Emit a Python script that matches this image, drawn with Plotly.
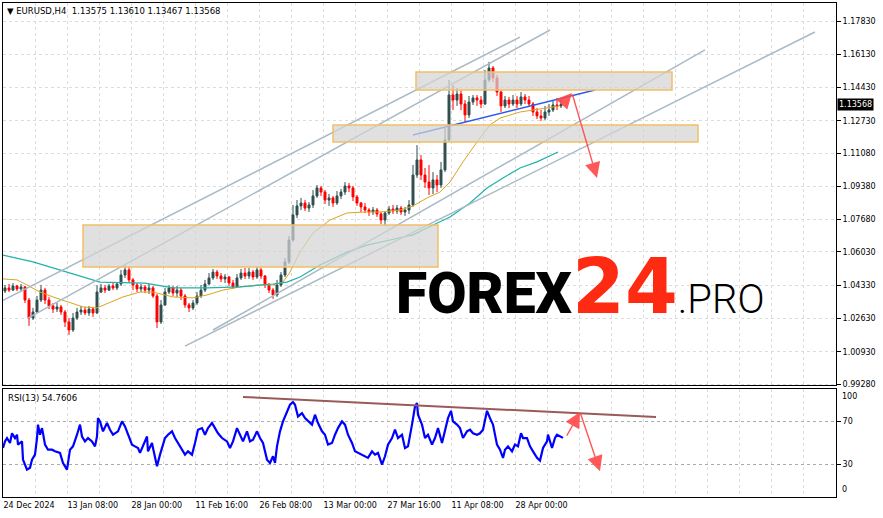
import plotly.graph_objects as go

header_text = "▼ EURUSD,H4  1.13575 1.13610 1.13467 1.13568"
rsi_text = "RSI(13) 54.7606"
last_price = 1.13568
last_price_text = "1.13568"

# ---- candles (each candle = 4 H4 bars) ----
bars_per_candle = 4
opens = [1.0403,1.0419,1.0408,1.0429,1.0414,1.0424,1.0357,1.0265,1.0296,1.0357,
         1.0408,1.0357,1.0327,1.0311,1.0322,1.0296,1.0245,1.0204,1.0265,1.0296,
         1.0306,1.0291,1.0311,1.0291,1.0398,1.0419,1.0408,1.0429,1.0419,1.0439,
         1.0485,1.0511,1.0460,1.0434,1.0414,1.0424,1.0408,1.0419,1.0378,1.0245,
         1.0332,1.0398,1.0419,1.0393,1.0408,1.0378,1.0332,1.0317,1.0342,1.0378,
         1.0408,1.0439,1.0470,1.0500,1.0480,1.0465,1.0475,1.0444,1.0424,1.0470,
         1.0495,1.0480,1.0500,1.0475,1.0511,1.0480,1.0434,1.0408,1.0383,1.0434,
         1.0485,1.0552,1.0664,1.0792,1.0838,1.0853,1.0827,1.0843,1.0889,1.0930,
         1.0909,1.0868,1.0879,1.0853,1.0889,1.0909,1.0940,1.0930,1.0884,1.0853,
         1.0833,1.0817,1.0807,1.0817,1.0797,1.0766,1.0802,1.0822,1.0812,1.0827,
         1.0807,1.0817,1.0843,1.0996,1.1073,1.0996,1.0960,1.0930,1.0971,1.0945,
         1.1022,1.1175,1.1405,1.1379,1.1410,1.1359,1.1303,1.1369,1.1390,1.1379,
         1.1359,1.1482,1.1543,1.1492,1.1420,1.1349,1.1379,1.1359,1.1379,1.1359,
         1.1395,1.1379,1.1359,1.1318,1.1298,1.1287,1.1318,1.1328,1.1354,1.1349]
highs = [1.0434,1.0439,1.0444,1.0434,1.0439,1.0429,1.0368,1.0317,1.0378,1.0434,
         1.0419,1.0373,1.0342,1.0342,1.0332,1.0306,1.0265,1.0291,1.0317,1.0327,
         1.0322,1.0327,1.0322,1.0434,1.0439,1.0434,1.0439,1.0444,1.0449,1.0511,
         1.0536,1.0531,1.0470,1.0444,1.0439,1.0434,1.0439,1.0429,1.0388,1.0357,
         1.0419,1.0434,1.0429,1.0429,1.0419,1.0388,1.0342,1.0357,1.0398,1.0434,
         1.0460,1.0495,1.0516,1.0511,1.0495,1.0490,1.0480,1.0460,1.0490,1.0516,
         1.0521,1.0521,1.0511,1.0526,1.0521,1.0485,1.0444,1.0419,1.0460,1.0500,
         1.0572,1.0684,1.0843,1.0868,1.0879,1.0868,1.0858,1.0919,1.0945,1.0940,
         1.0919,1.0899,1.0889,1.0914,1.0925,1.0960,1.0955,1.0940,1.0894,1.0858,
         1.0853,1.0827,1.0833,1.0827,1.0807,1.0812,1.0838,1.0843,1.0843,1.0838,
         1.0833,1.0868,1.1047,1.1149,1.1098,1.1032,1.1047,1.1011,1.0996,1.1063,
         1.1236,1.1482,1.1456,1.1441,1.1430,1.1379,1.1400,1.1405,1.1405,1.1400,
         1.1533,1.1574,1.1553,1.1507,1.1430,1.1400,1.1395,1.1405,1.1400,1.1420,
         1.1410,1.1400,1.1369,1.1338,1.1328,1.1349,1.1359,1.1379,1.1390,1.1384]
lows = [1.0393,1.0398,1.0403,1.0403,1.0398,1.0342,1.0225,1.0255,1.0291,1.0347,
        1.0337,1.0311,1.0291,1.0296,1.0281,1.0219,1.0179,1.0194,1.0255,1.0281,
        1.0281,1.0276,1.0271,1.0286,1.0393,1.0393,1.0403,1.0408,1.0408,1.0429,
        1.0470,1.0444,1.0408,1.0398,1.0398,1.0393,1.0388,1.0368,1.0214,1.0235,
        1.0327,1.0388,1.0378,1.0373,1.0357,1.0317,1.0296,1.0306,1.0332,1.0368,
        1.0398,1.0434,1.0460,1.0465,1.0449,1.0444,1.0429,1.0414,1.0419,1.0460,
        1.0465,1.0465,1.0460,1.0465,1.0465,1.0419,1.0393,1.0363,1.0373,1.0424,
        1.0475,1.0541,1.0654,1.0776,1.0817,1.0812,1.0807,1.0827,1.0879,1.0889,
        1.0848,1.0838,1.0833,1.0843,1.0873,1.0894,1.0909,1.0863,1.0838,1.0807,
        1.0802,1.0787,1.0792,1.0782,1.0746,1.0736,1.0792,1.0797,1.0797,1.0792,
        1.0787,1.0797,1.0833,1.0981,1.0971,1.0930,1.0894,1.0899,1.0909,1.0930,
        1.1011,1.1165,1.1328,1.1349,1.1328,1.1267,1.1287,1.1354,1.1349,1.1338,
        1.1354,1.1471,1.1471,1.1400,1.1318,1.1338,1.1338,1.1349,1.1338,1.1349,
        1.1359,1.1349,1.1298,1.1282,1.1272,1.1277,1.1298,1.1318,1.1328,1.1338]
closes = [1.0419,1.0408,1.0429,1.0414,1.0424,1.0357,1.0265,1.0296,1.0357,1.0408,
          1.0357,1.0327,1.0311,1.0322,1.0296,1.0245,1.0204,1.0265,1.0296,1.0306,
          1.0291,1.0311,1.0291,1.0398,1.0419,1.0408,1.0429,1.0419,1.0439,1.0485,
          1.0511,1.0460,1.0434,1.0414,1.0424,1.0408,1.0419,1.0378,1.0245,1.0332,
          1.0398,1.0419,1.0393,1.0408,1.0378,1.0332,1.0317,1.0342,1.0378,1.0408,
          1.0439,1.0470,1.0500,1.0480,1.0465,1.0475,1.0444,1.0424,1.0470,1.0495,
          1.0480,1.0500,1.0475,1.0511,1.0480,1.0434,1.0408,1.0383,1.0434,1.0485,
          1.0552,1.0664,1.0792,1.0838,1.0853,1.0827,1.0843,1.0889,1.0930,1.0909,
          1.0868,1.0879,1.0853,1.0889,1.0909,1.0940,1.0930,1.0884,1.0853,1.0833,
          1.0817,1.0807,1.0817,1.0797,1.0766,1.0802,1.0822,1.0812,1.0827,1.0807,
          1.0817,1.0843,1.0996,1.1073,1.0996,1.0960,1.0930,1.0971,1.0945,1.1022,
          1.1175,1.1405,1.1379,1.1410,1.1359,1.1303,1.1369,1.1390,1.1379,1.1359,
          1.1482,1.1543,1.1492,1.1420,1.1349,1.1379,1.1359,1.1379,1.1359,1.1395,
          1.1379,1.1359,1.1318,1.1298,1.1287,1.1318,1.1328,1.1354,1.1349,1.13568]

# ---- RSI(13) readings (bar index, value) ----
rsi_bars = [0,2,4,7,9,12,14,15,19,20,24,27,29,32,34,35,37,39,40,42,45,49,52,57,60,64,67,70,74,77,
            79,82,85,89,92,94,95,97,100,104,107,110,115,119,122,125,129,132,135,137,140,144,145,149,150,154,157,160,162,165,
            169,172,175,179,182,185,189,192,195,199,202,205,209,212,215,219,224,227,230,234,237,240,244,247,250,254,257,260,264,267,
            270,272,274,277,280,284,287,290,292,295,299,302,305,309,312,315,319,322,325,329,332,335,339,342,345,349,352,355,359,362,
            365,369,372,375,379,382,385,389,392,395,399,402,405,409,412,414,415,419,422,425,429,432,435,439,442,445,448,450,454,457,
            460,464,467,470,474,477,480,484,487,490,494,497,500,502,505,509,512,515,518,520,524,527,530,534,537,540,544,545,549,552,
            554,557,560]
rsi = [45.4,51.5,54.6,50,59,54.6,57.7,48.5,51.5,34.6,25.4,27,34.6,39.2,54.6,67,57.7,63.8,59,48.5,43.8,43.8,42.3,40.8,31.5,25.4,43.8,46.9,57.7,67,
       56,51.5,54.6,51.5,46.9,56,73,70,60.8,68.5,62.3,57.7,60.8,70,65.4,57.7,48.5,46.9,45.4,40.8,46.9,56,42.3,50,45.4,28.5,39.2,50,54.6,57.7,
       60.8,54.6,50,43.8,39.2,42.3,39.2,50,62.3,63.8,57.7,63.8,68.5,63.8,59,54.6,51.5,45.4,51.5,63.8,57.7,51.5,60.8,51.5,53,60.8,54.6,50,34.6,31.5,
       37.7,31.5,46.9,60.8,70,79,85.4,87.8,85.4,74.6,77.7,73,70,67,76.2,68.5,60.8,57.7,48.5,50,57.7,63.8,70,67,57.7,50,42.3,40.8,39.2,37.7,
       36.2,42.3,39.2,40.8,30,37.7,48.5,54.6,62.3,54.6,57.7,45.4,46.9,67,83.8,86.9,76.2,67,54.6,57.7,48.5,54.6,63.8,50,60.8,73,79.8,70,67,63.8,
       54.6,60.8,62.3,59,57.7,59,62.3,79.8,73,67,48.5,43.8,36.2,43.8,46.9,42.3,48.5,46.9,59,54.6,54.6,46.9,42.3,36.2,33.7,45.4,51.5,57.7,45.4,54.6,
       57.7,56.1,54.76]

# ---- moving averages (bar index, price) ----
ma_fast_bars = [0,14,24,37,50,67,80,94,107,120,137,150,170,190,204,220,237,254,270,280,
                287,297,310,327,344,362,377,397,410,424,437,447,460,474,487,497,517,530,544,557]
ma_fast = [1.0465,1.0460,1.0434,1.0398,1.0373,1.0342,1.0322,1.0317,1.0347,1.0373,1.0398,1.0398,
           1.0373,1.0368,1.0383,1.0408,1.0424,1.0434,1.0434,1.0449,1.0500,1.0602,1.0700,1.0766,
           1.0802,1.0807,1.0807,1.0817,1.0838,1.0879,1.0909,1.0960,1.1063,1.1165,1.1252,1.1287,
           1.1318,1.1328,1.1338,1.1349]
ma_slow_bars = [0,30,64,84,97,142,170,204,237,270,284,297,317,344,364,387,410,424,447,467,
                484,500,517,534,555]
ma_slow = [1.0587,1.0552,1.0500,1.0470,1.0449,1.0444,1.0419,1.0419,1.0424,1.0439,1.0449,1.0475,
           1.0536,1.0602,1.0638,1.0664,1.0690,1.0725,1.0781,1.0853,1.0930,1.0981,1.1032,1.1063,1.1114]

# ---- drawn objects (bar index, price) ----
channel_lines = [(0, 1.0355, 517, 1.1701), (25, 1.0265, 547, 1.1737),
                 (210, 1.0204, 702, 1.1635), (182, 1.0122, 812, 1.1727)]
trend_line = (410, 1.1201, 592, 1.1430)
zone_bar_start = [80, 330, 413]
zone_bar_end = [435, 695, 669]
zone_low = [1.0526, 1.1165, 1.1430]
zone_high = [1.0741, 1.1252, 1.1523]
price_arrows = [(559, 1.1359, 569, 1.1415), (569, 1.1415, 594, 1.0981)]
rsi_trend = (240, 92.7, 653, 74.0)
rsi_arrows = [(563, 55.4, 577, 78.7), (577, 78.7, 597, 23.8)]

# ---- axes ----
date_tick_bars = [0, 64, 128, 192, 256, 320, 384, 448, 512]
date_tick_labels = ["24 Dec 2024", "13 Jan 08:00", "28 Jan 00:00", "11 Feb 16:00",
                    "26 Feb 08:00", "13 Mar 00:00", "27 Mar 16:00", "11 Apr 08:00", "28 Apr 00:00"]
price_ticks = [1.1783, 1.1613, 1.1443, 1.1273, 1.1108, 1.0938, 1.0768, 1.0603,
               1.0433, 1.0263, 1.0093, 0.9928]
price_tick_labels = ["1.17830", "1.16130", "1.14430", "1.12730", "1.11080", "1.09380",
                     "1.07680", "1.06030", "1.04330", "1.02630", "1.00930", "0.99280"]
rsi_levels = [30, 70]

X_MAX = 833
GRID_STEP = 32
x_candles = [bars_per_candle * k + bars_per_candle / 2 for k in range(len(closes))]

FONT = "DejaVu Sans"
GRID = "#dcdcdc"
ARROW = "rgba(255,70,70,0.9)"

fig = go.Figure()
fig.add_trace(go.Candlestick(
    x=x_candles, open=opens, high=highs, low=lows, close=closes,
    increasing=dict(line=dict(color="#2F4F4F", width=1), fillcolor="#2F4F4F"),
    decreasing=dict(line=dict(color="#FF0000", width=1), fillcolor="#FF0000"),
    whiskerwidth=0, hoverinfo="skip", xaxis="x", yaxis="y", showlegend=False))
fig.add_trace(go.Scatter(x=ma_fast_bars, y=ma_fast, mode="lines",
                         line=dict(color="#DAA520", width=1), xaxis="x", yaxis="y",
                         hoverinfo="skip", showlegend=False))
fig.add_trace(go.Scatter(x=ma_slow_bars, y=ma_slow, mode="lines",
                         line=dict(color="#20B2AA", width=1.2), xaxis="x", yaxis="y",
                         hoverinfo="skip", showlegend=False))
fig.add_trace(go.Scatter(x=rsi_bars, y=rsi, mode="lines",
                         line=dict(color="#0000FF", width=2.2), xaxis="x2", yaxis="y2",
                         hoverinfo="skip", showlegend=False))

shapes = []
for (b0, p0, b1, p1) in channel_lines:
    shapes.append(dict(type="line", xref="x", yref="y", x0=b0, y0=p0, x1=b1, y1=p1,
                       line=dict(color="#A9BAC6", width=1.5), layer="above"))
b0, p0, b1, p1 = trend_line
shapes.append(dict(type="line", xref="x", yref="y", x0=b0, y0=p0, x1=b1, y1=p1,
                   line=dict(color="#2A5BEE", width=1.5), layer="above"))
for i in range(len(zone_low)):
    shapes.append(dict(type="rect", xref="x", yref="y", x0=zone_bar_start[i], x1=zone_bar_end[i],
                       y0=zone_low[i], y1=zone_high[i], fillcolor="rgba(212,212,212,0.72)",
                       line=dict(color="#F2BE66", width=1.5), layer="above"))
b0, r0, b1, r1 = rsi_trend
shapes.append(dict(type="line", xref="x2", yref="y2", x0=b0, y0=r0, x1=b1, y1=r1,
                   line=dict(color="#9A5A5A", width=2), layer="above"))

annotations = []
for (tb, tp, hb, hp) in price_arrows:
    annotations.append(dict(x=hb, y=hp, ax=tb, ay=tp, xref="x", yref="y", axref="x", ayref="y",
                            text="", showarrow=True, arrowhead=2, arrowsize=2.2, arrowwidth=1.4,
                            arrowcolor=ARROW, standoff=0))
for (tb, tr, hb, hr) in rsi_arrows:
    annotations.append(dict(x=hb, y=hr, ax=tb, ay=tr, xref="x2", yref="y2", axref="x2", ayref="y2",
                            text="", showarrow=True, arrowhead=2, arrowsize=2.2, arrowwidth=1.4,
                            arrowcolor=ARROW, standoff=0))
annotations.append(dict(xref="paper", yref="paper", x=0, y=1, xanchor="left", yanchor="top",
                        xshift=2, yshift=-1, text=header_text, showarrow=False,
                        font=dict(family=FONT, size=8.5, color="#000")))
annotations.append(dict(xref="paper", yref="y2", x=0, y=100, xanchor="left", yanchor="top",
                        xshift=3, yshift=-2, text=rsi_text, showarrow=False,
                        font=dict(family=FONT, size=8.5, color="#000")))
annotations.append(dict(xref="paper", yref="y", x=1, y=last_price, xanchor="left", yanchor="middle",
                        xshift=1, text=last_price_text, showarrow=False, bgcolor="#000",
                        borderpad=1, font=dict(family=FONT, size=8, color="#fff")))
annotations.append(dict(xref="paper", yref="y2", x=1, y=100, xanchor="left", yanchor="top",
                        xshift=4, yshift=-1, text="100", showarrow=False,
                        font=dict(family=FONT, size=8, color="#000")))
annotations.append(dict(xref="paper", yref="y2", x=1, y=0, xanchor="left", yanchor="bottom",
                        xshift=4, yshift=1, text="0", showarrow=False,
                        font=dict(family=FONT, size=8, color="#000")))
watermark = ('<span style="font-family:Roboto;font-weight:900">FOREX</span>'
             '<span style="font-family:\'DejaVu Sans\';color:#FF2A12;font-size:76px;font-weight:700">24</span>'
             '<span style="font-family:Roboto;font-weight:300;font-size:40px">.PRO</span>')
annotations.append(dict(xref="paper", yref="paper", x=0.4694, y=0.331, xanchor="left",
                        yanchor="bottom", text=watermark, showarrow=False,
                        font=dict(family="Roboto, Lato, DejaVu Sans", size=57, color="#000")))

grid_vals = list(range(0, X_MAX, GRID_STEP))
grid_text = [date_tick_labels[date_tick_bars.index(v)] if v in date_tick_bars else "" for v in grid_vals]

axis_common = dict(showline=True, mirror=True, linecolor="#000", linewidth=1, zeroline=False,
                   fixedrange=True)

fig.update_layout(
    width=883, height=518, autosize=False,
    margin=dict(l=3, r=47, t=3, b=21),
    paper_bgcolor="#fff", plot_bgcolor="#fff",
    showlegend=False,
    shapes=shapes, annotations=annotations,
    xaxis=dict(domain=[0, 1], range=[0, X_MAX], anchor="y", tickmode="array",
               tickvals=grid_vals, ticktext=["" for _ in grid_vals], showticklabels=False,
               showgrid=True, gridcolor=GRID, griddash="3px,3px", gridwidth=1,
               rangeslider=dict(visible=False), **axis_common),
    yaxis=dict(domain=[0.2267, 1], range=[0.99229, 1.1875], anchor="x", side="right",
               tickmode="array", tickvals=price_ticks, ticktext=price_tick_labels,
               ticks="outside", ticklen=4, tickcolor="#000",
               tickfont=dict(family=FONT, size=8, color="#000"),
               showgrid=True, gridcolor=GRID, griddash="3px,3px", **axis_common),
    xaxis2=dict(domain=[0, 1], range=[0, X_MAX], anchor="y2", tickmode="array",
                tickvals=grid_vals, ticktext=grid_text, ticks="",
                ticklabelposition="outside right",
                tickfont=dict(family=FONT, size=8, color="#000"),
                showgrid=True, gridcolor=GRID, griddash="3px,3px", **axis_common),
    yaxis2=dict(domain=[0, 0.2186], range=[0, 100], anchor="x2", side="right",
                tickmode="array", tickvals=rsi_levels, ticktext=[str(v) for v in rsi_levels],
                ticks="outside", ticklen=4, tickcolor="#000",
                tickfont=dict(family=FONT, size=8, color="#000"),
                showgrid=True, gridcolor="#aaaaaa", griddash="3px,3px", **axis_common),
)

fig.write_html("out.html", config={"displayModeBar": False},
               post_script="document.body.style.margin='0';")
